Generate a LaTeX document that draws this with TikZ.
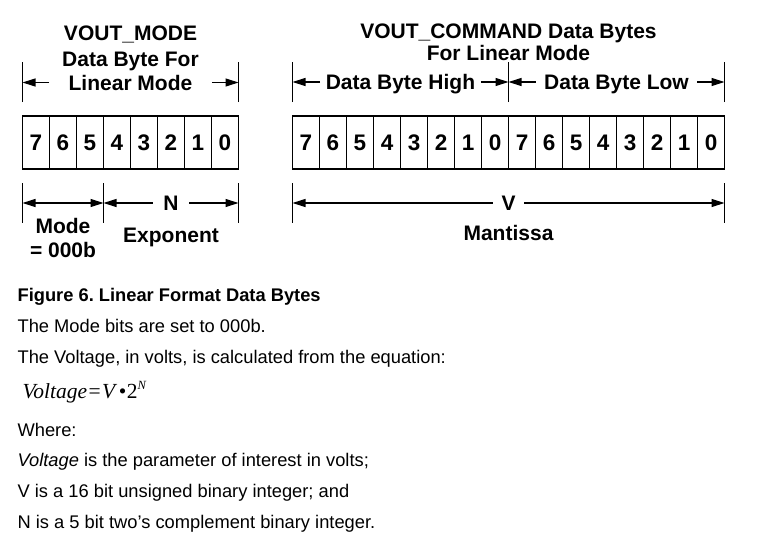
\documentclass[tikz,border=0pt]{standalone}
\usepackage{fontspec}
\setmainfont{Liberation Sans}
\newfontfamily\eqfont{Liberation Serif}
\usetikzlibrary{arrows.meta, positioning, calc}
\frenchspacing
\tikzset{
  every picture/.style={line width=1.2pt},
  bitcell/.style={draw, minimum width=27pt, minimum height=53pt, inner sep=0pt, outer sep=0pt,
    anchor=north west, font=\fontsize{22.5}{22.5}\selectfont\bfseries},
  heading/.style={font=\fontsize{21}{21}\selectfont\bfseries, anchor=base, inner sep=0pt},
  span/.style={font=\fontsize{21}{21}\selectfont\bfseries, anchor=base, inner ysep=0pt,
    text height=15pt, text depth=0pt, inner xsep=#1},
  span/.default=6pt,
  guide/.style={line width=1.1pt},
  dim/.style={-{Triangle[length=13pt,width=8pt]}, line width=1.1pt},
  dimboth/.style={{Triangle[length=13pt,width=8pt]}-{Triangle[length=13pt,width=8pt]}, line width=1.1pt},
  body/.style={font=\fontsize{18.3}{18.3}\selectfont, anchor=base west, inner sep=0pt},
}

\begin{document}
\begin{tikzpicture}[x=1pt, y=-1pt]
  \useasboundingbox (0,0) rectangle (770,538);
  % bit cells
  \foreach \b [count=\i from 0] in {7,...,0} {
    \node[bitcell] (m\b) at (22.5+27*\i,116) {\b};
    \node[bitcell] (h\b) at (292.5+27*\i,116) {\b};
    \node[bitcell] (l\b) at (508.5+27*\i,116) {\b};
  }
  % guide lines above and below
  \foreach \c/\a in {m7/west, m0/east, h7/west, l7/west, l0/east} {
    \draw[guide] ($(\c.north \a)+(0,-14)$) -- ++(0,-40);
  }
  \foreach \c/\a in {m7/west, m5/east, m0/east, h7/west, l0/east} {
    \draw[guide] ($(\c.south \a)+(0,14)$) -- ++(0,40);
  }
  % VOUT_MODE byte
  \node[heading] (modet1) at (130.5,40) {VOUT\_MODE};
  \node[heading] (modet2) at (130.5,66.5) {Data Byte For};
  \node[span=19pt] (linmode) at (130.5,90) {Linear Mode};
  \draw[dim] (linmode.west) -- (linmode.west -| m7.west);
  \draw[dim] (linmode.east) -- (linmode.east -| m0.east);
  \coordinate (model) at ($(m7.south west)+(0,34)$);
  \coordinate (moder) at ($(m5.south east)+(0,34)$);
  \draw[dimboth] (model) -- (moder);
  \node[span=10pt] (nexp) at (171,210.5) {N};
  \draw[dim] (nexp.west) -- (nexp.west -| m5.east);
  \draw[dim] (nexp.east) -- (nexp.east -| m0.east);
  \node[heading] (mode1) at (63,233) {Mode};
  \node[heading] (mode2) at (63,257) {= 000b};
  \node[heading] (expo) at (171,242) {Exponent};
  % VOUT_COMMAND bytes
  \node[heading] (cmdt1) at (508.5,38) {VOUT\_COMMAND Data Bytes};
  \node[heading] (cmdt2) at (508.5,60.5) {For Linear Mode};
  \node[span=5pt] (high) at (400.5,89.5) {Data Byte High};
  \node[span=8pt] (low) at (616.5,89.5) {Data Byte Low};
  \draw[dim] (high.west) -- (high.west -| h7.west);
  \draw[dim] (high.east) -- (high.east -| l7.west);
  \draw[dim] (low.west) -- (low.west -| l7.west);
  \draw[dim] (low.east) -- (low.east -| l0.east);
  \node[span=8pt] (mant) at (508.5,210.5) {V};
  \draw[dim] (mant.west) -- (mant.west -| h7.west);
  \draw[dim] (mant.east) -- (mant.east -| l0.east);
  \node[heading] (mantl) at (508.5,240) {Mantissa};
  % text below
  \node[body, font=\fontsize{18.3}{18.3}\selectfont\bfseries] (fig) at (17,301.5) {Figure 6. Linear Format Data Bytes};
  \node[body] (t1) at (17,332.5) {The Mode bits are set to 000b.};
  \node[body] (t2) at (17,363) {The Voltage, in volts, is calculated from the equation:};
  \node[body, font=\fontsize{21.5}{21.5}\eqfont] (eq) at (22,398)
    {\textit{Voltage}\kern1.5pt=\kern1.5pt\textit{V}\kern1.5pt\textbullet\kern0.5pt2\raisebox{8.5pt}{\fontsize{12.5}{12.5}\selectfont\textit{N}}};
  \node[body] (t3) at (17,436) {Where:};
  \node[body] (t4) at (17,466.5) {\textit{Voltage} is the parameter of interest in volts;};
  \node[body] (t5) at (17,497.5) {V is a 16 bit unsigned binary integer; and};
  \node[body] (t6) at (17,528.5) {N is a 5 bit two’s complement binary integer.};
\end{tikzpicture}
\end{document}
